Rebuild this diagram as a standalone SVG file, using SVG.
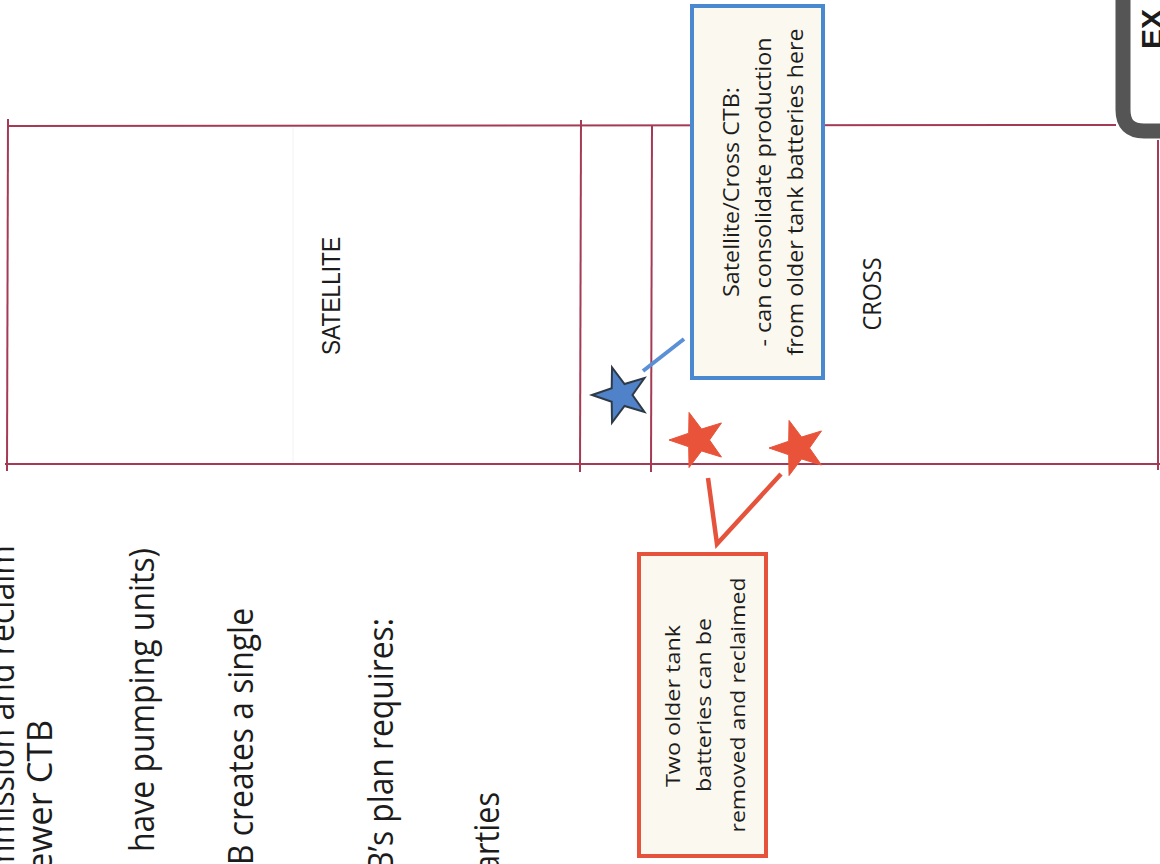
<svg xmlns="http://www.w3.org/2000/svg" width="1160" height="864" viewBox="0 0 1160 864">
  <style>
    .grid { stroke: #a53a55; stroke-width: 2; fill: none; }
    .body { font-family: "Open Sans", "Liberation Sans", Arial, sans-serif; fill: #1c1c1c; }
    .arial { font-family: "Liberation Sans", Arial, sans-serif; fill: #1c1c1c; }
    .big { font-size: 35px; }
    .lbl { font-size: 25px; }
    .note { font-size: 21px; }
    .note2 { font-size: 19.5px; }
    .box { fill: #fbf8ef; stroke-width: 4; }
    .blue { stroke: #4a88d0; }
    .red { stroke: #e5533d; }
    .star-red { fill: #e8533a; stroke: #e8533a; stroke-width: 1; }
    .star-blue { fill: #4f82c8; stroke: #2f3a48; stroke-width: 2; stroke-linejoin: miter; }
  </style>
  <defs>
    <polygon id="star" points="-29,0 -9.3,-6.76 -8.96,-27.58 3.55,-10.94 23.46,-17.05 11.5,0 23.46,17.05 3.55,10.94 -8.96,27.58 -9.3,6.76"/>
  </defs>
  <rect x="0" y="0" width="1160" height="864" fill="#ffffff"/>

  <g id="left-text" class="body big">
    <text transform="translate(14,545) rotate(-90)" text-anchor="end" textLength="329" lengthAdjust="spacingAndGlyphs">mmission and reclaim</text>
    <text transform="translate(52,720) rotate(-90)" text-anchor="end" textLength="152" lengthAdjust="spacingAndGlyphs">ewer CTB</text>
    <text transform="translate(154,700) rotate(-90)" text-anchor="middle" textLength="304" lengthAdjust="spacingAndGlyphs">have pumping units)</text>
    <text transform="translate(253,608) rotate(-90)" text-anchor="end" textLength="257" lengthAdjust="spacingAndGlyphs">B creates a single</text>
    <text transform="translate(393,618) rotate(-90)" text-anchor="end" textLength="254" lengthAdjust="spacingAndGlyphs">B’s plan requires:</text>
    <text transform="translate(499,792) rotate(-90)" text-anchor="end" textLength="80" lengthAdjust="spacingAndGlyphs">arties</text>
  </g>

  <g id="grid">
    <line class="grid" x1="8" y1="126" x2="1116" y2="125"/>
    <line class="grid" x1="5" y1="464" x2="1160" y2="464"/>
    <line class="grid" x1="8" y1="119" x2="7" y2="471"/>
    <line class="grid" x1="581" y1="120" x2="580" y2="472"/>
    <line class="grid" x1="652" y1="126" x2="651" y2="472"/>
    <line class="grid" x1="1158" y1="140" x2="1158" y2="470"/>
    <line x1="293" y1="128" x2="293" y2="462" stroke="#f2f2f2" stroke-width="1"/>
  </g>

  <g id="exhibit-frame">
    <path d="M1123,0 L1123,110 Q1123,131 1144,131 L1160,131" fill="none" stroke="#555555" stroke-width="15"/>
    <text class="arial" transform="translate(1162,49) rotate(-90)" font-size="30" font-weight="bold" fill="#111">EX</text>
  </g>

  <g id="satellite">
    <text class="arial lbl" transform="translate(340,296) rotate(-90)" text-anchor="middle" textLength="118" lengthAdjust="spacingAndGlyphs">SATELLITE</text>
  </g>

  <g id="cross">
    <text class="body lbl" transform="translate(881,294) rotate(-90)" text-anchor="middle" textLength="73" lengthAdjust="spacingAndGlyphs">CROSS</text>
  </g>

  <g id="connectors">
    <line x1="643" y1="371" x2="684" y2="339" stroke="#5b8fd6" stroke-width="4"/>
    <polyline points="708,478 717,544 781,474" fill="none" stroke="#e5533d" stroke-width="4.5" stroke-linejoin="miter"/>
  </g>

  <g id="blue-star">
    <use href="#star" class="star-blue" transform="translate(621,395)"/>
  </g>
  <g id="red-star-1">
    <use href="#star" class="star-red" transform="translate(698,440)"/>
  </g>
  <g id="red-star-2">
    <use href="#star" class="star-red" transform="translate(798,448)"/>
  </g>

  <g id="satellite-cross-ctb">
    <rect class="box blue" x="692" y="6" width="131" height="372"/>
    <text class="body note" transform="translate(739,192) rotate(-90)" text-anchor="middle" textLength="210" lengthAdjust="spacingAndGlyphs">Satellite/Cross CTB:</text>
    <text class="body note" transform="translate(771,192) rotate(-90)" text-anchor="middle" textLength="309" lengthAdjust="spacingAndGlyphs">- can consolidate production</text>
    <text class="body note" transform="translate(803,192) rotate(-90)" text-anchor="middle" textLength="327" lengthAdjust="spacingAndGlyphs">from older tank batteries here</text>
  </g>

  <g id="older-tank-batteries">
    <rect class="box red" x="639" y="554" width="127" height="302"/>
    <text class="body note2" transform="translate(680,706) rotate(-90)" text-anchor="middle" textLength="162" lengthAdjust="spacingAndGlyphs">Two older tank</text>
    <text class="body note2" transform="translate(711,705) rotate(-90)" text-anchor="middle" textLength="174" lengthAdjust="spacingAndGlyphs">batteries can be</text>
    <text class="body note2" transform="translate(745,705) rotate(-90)" text-anchor="middle" textLength="255" lengthAdjust="spacingAndGlyphs">removed and reclaimed</text>
  </g>
</svg>
